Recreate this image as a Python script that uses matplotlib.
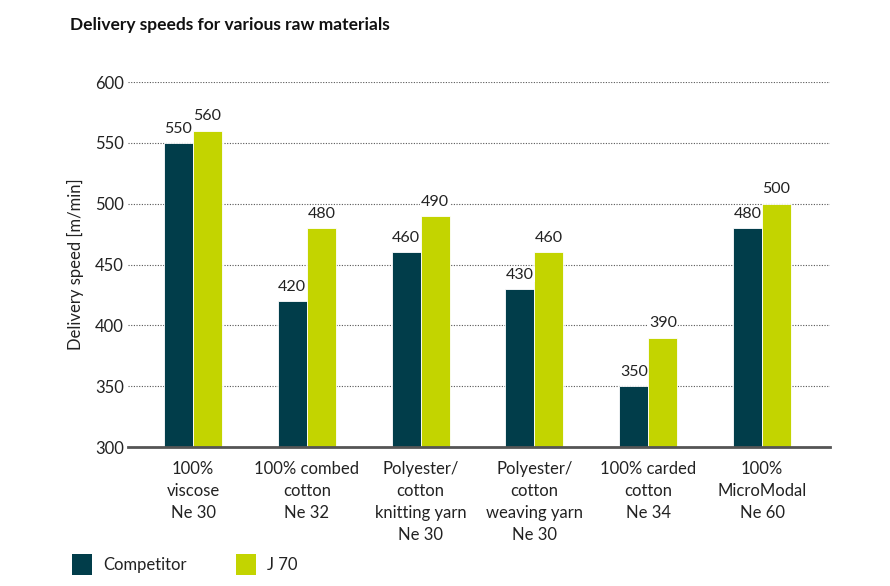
import matplotlib.pyplot as plt
import numpy as np
from matplotlib.patches import Rectangle

plt.rcParams['font.family'] = ['Lato', 'DejaVu Sans']

categories = ["100%\nviscose\nNe 30", "100% combed\ncotton\nNe 32",
              "Polyester/\ncotton\nknitting yarn\nNe 30",
              "Polyester/\ncotton\nweaving yarn\nNe 30",
              "100% carded\ncotton\nNe 34", "100%\nMicroModal\nNe 60"]
competitor = [550, 420, 460, 430, 350, 480]
j70 = [560, 480, 490, 460, 390, 500]
yticks = [300, 350, 400, 450, 500, 550, 600]

c_dark = '#013d4a'
c_lime = '#c3d400'

fig = plt.figure(figsize=(8.9, 5.86), dpi=100)
ax = fig.add_axes([0.144, 0.237, 0.789, 0.623])

x = np.arange(len(categories))
w = 0.255
for vals, off, col in [(competitor, -w / 2, c_dark), (j70, w / 2, c_lime)]:
    ax.bar(x + off, np.array(vals) - 300, w, bottom=300, color=col,
           edgecolor='white', linewidth=0.6, zorder=3)
    for xi, v in zip(x + off, vals):
        # label box hides the dotted grid but stays under the bars
        ax.text(xi, v + 6, str(v), ha='center', va='bottom', fontsize=11.5,
                color='#222222', zorder=4,
                bbox=dict(facecolor='white', edgecolor='none', pad=0.5))

ax.set_ylim(300, 600)
ax.set_xlim(-0.57, 5.6)
ax.set_yticks(yticks)
ax.set_yticklabels([str(t) for t in yticks], fontsize=12, color='#222222')
ax.yaxis.grid(True, linestyle=(0, (1, 1.4)), color='#555555', linewidth=0.8, zorder=0)
ax.tick_params(axis='y', length=0, pad=3)
ax.tick_params(axis='x', length=0, pad=10)
ax.set_xticks(x)
ax.set_xticklabels(categories, fontsize=12, color='#222222', linespacing=1.45, va='top')
for s in ['top', 'right', 'left']:
    ax.spines[s].set_visible(False)
ax.spines['bottom'].set_color('#555555')
ax.spines['bottom'].set_linewidth(2)
ax.spines['bottom'].set_zorder(4)
ax.set_ylabel('Delivery speed [m/min]', fontsize=12, color='#222222', labelpad=8)

fig.text(0.079, 0.958, 'Delivery speeds for various raw materials', fontsize=12.5,
         fontweight='bold', color='#111111', va='center')

# legend
for xl, col, lab in [(0.081, c_dark, 'Competitor'), (0.265, c_lime, 'J 70')]:
    fig.patches.append(Rectangle((xl, 0.019), 0.0225, 0.036, transform=fig.transFigure,
                                 facecolor=col, edgecolor='none'))
    fig.text(xl + 0.035, 0.036, lab, fontsize=12, color='#222222', va='center')

fig.savefig('out.png', dpi=100)
